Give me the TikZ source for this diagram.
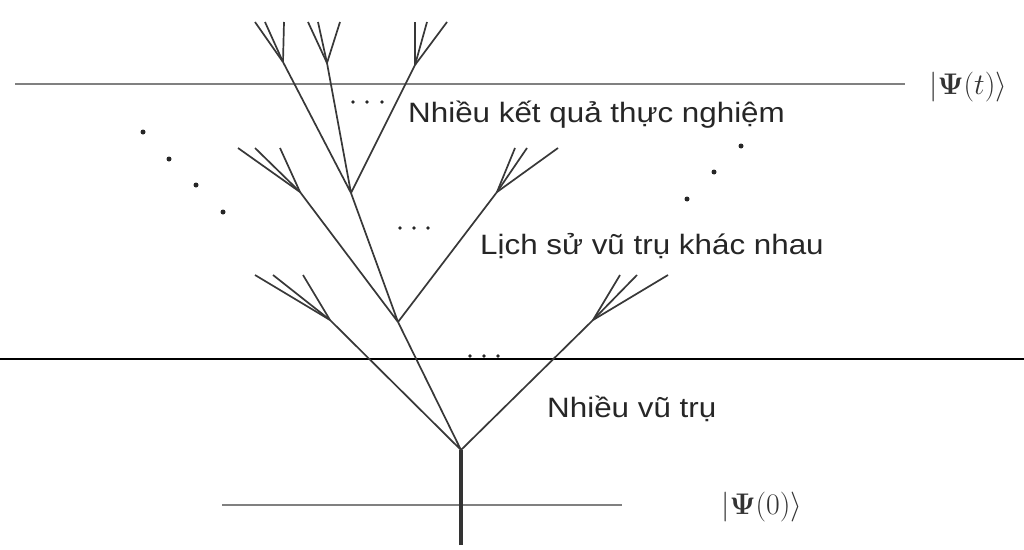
\documentclass[tikz,border=0pt]{standalone}
\usepackage{fontspec}
\setmainfont{Liberation Sans}
\usepackage{amsmath}
\begin{document}
\begin{tikzpicture}[x=1pt,y=-1pt,
  br/.style={draw=black!78,line width=1.7pt},
  glines/.style={draw=black!50,line width=2.6pt},
  blackline/.style={draw=black,line width=1.6pt},
  lbl/.style={font=\fontsize{28}{30}\selectfont,text=black!85,inner sep=0pt,anchor=west,xscale=1.12},
  ket/.style={font=\fontsize{24.88}{28}\selectfont,text=black!80,inner sep=0pt,anchor=west,scale=1.2},
  dotc/.style={fill=black!85,draw=none}]
\useasboundingbox (0,0) rectangle (1024,549);
\fill[white] (0,0) rectangle (1024,549);
% horizontal lines
\coordinate (tl) at (15,84); \coordinate (tr) at (905,84);
\coordinate (ml) at (0,359); \coordinate (mr) at (1024,359);
\coordinate (bl) at (222,505); \coordinate (brr) at (622,505);
\draw[glines] (tl) -- (tr);
\draw[blackline] (ml) -- (mr);
\draw[glines] (bl) -- (brr);
% tree nodes
\coordinate (root) at (461,545);
\coordinate (f0) at (461,450);
\coordinate (a) at (330,320);
\coordinate (b) at (398,322);
\coordinate (c) at (593,320);
\coordinate (d) at (300,192);
\coordinate (e) at (351,193);
\coordinate (g) at (497,192);
\coordinate (h) at (283,62);
\coordinate (k) at (327,63);
\coordinate (m) at (415,65);
\draw[draw=black!80,line width=3.2pt] (root) -- (f0);
\draw[br] (f0) -- (a) (f0) -- (b) (f0) -- (c);
\draw[br] (b) -- (d) (b) -- (e) (b) -- (g);
\draw[br] (e) -- (h) (e) -- (k) (e) -- (m);
% leaf twigs
\foreach \n/\x in {a/255,a/273,a/303, c/620,c/637,c/668}
  {\coordinate (t) at (\x,275); \draw[br] (\n) -- (t);}
\foreach \n/\x in {d/238,d/255,d/280, g/515,g/527,g/558}
  {\coordinate (t) at (\x,148); \draw[br] (\n) -- (t);}
\foreach \n/\x in {h/255,h/265,h/284, k/308,k/318,k/340, m/415,m/427,m/447}
  {\coordinate (t) at (\x,22); \draw[br] (\n) -- (t);}
% dots
\foreach \x/\y in {353/102,367/102,382/102, 400/228,414/228,428/228, 470/356,484/356,498/356}
  \fill[dotc] (\x,\y) circle (1.8);
\foreach \x/\y in {143/132,169/159,196/185,223/212, 741/146,714/172,687/199}
  \fill[dotc] (\x,\y) circle (2.5);
% labels
\node[lbl] (l1) at (408,115) {Nhiều kết quả thực nghiệm};
\node[lbl] (l2) at (480,246) {Lịch sử vũ trụ khác nhau};
\node[lbl] (l3) at (547,409) {Nhiều vũ trụ};
\node[ket] (k1) at (929,87) {$|\boldsymbol{\Psi}(t)\rangle$};
\node[ket] (k0) at (721,507) {$|\boldsymbol{\Psi}(0)\rangle$};
\end{tikzpicture}
\end{document}
